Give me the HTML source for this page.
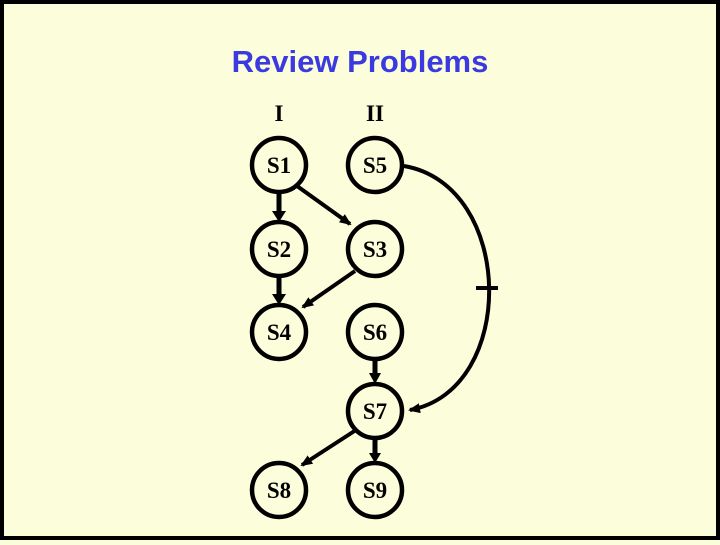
<!DOCTYPE html>
<html><head><meta charset="utf-8"><style>
html,body{margin:0;padding:0;}
body{width:720px;height:540px;overflow:hidden;background:#fcfdda;}
</style></head><body>
<svg width="720" height="540" xmlns="http://www.w3.org/2000/svg">
<defs>
<marker id="b" markerWidth="12" markerHeight="12" refX="10" refY="6" orient="auto" markerUnits="userSpaceOnUse"><path d="M0,1 L12,6 L0,11 z" fill="#000"/></marker></defs>
<rect x="2" y="2" width="716" height="536" fill="#fcfdda" stroke="#000" stroke-width="4"/>
<text x="360" y="72" text-anchor="middle" font-family="Liberation Sans, sans-serif" font-weight="bold" font-size="31" fill="#3a3ae0">Review Problems</text>
<g font-family="Liberation Serif, serif" font-weight="bold" font-size="23" text-anchor="middle" fill="#000">
<text x="279" y="121">I</text><text x="375" y="121">II</text>
</g>
<g fill="none" stroke="#000" stroke-width="4.5">
<circle cx="279" cy="165" r="27"/><circle cx="375" cy="165" r="27"/>
<circle cx="279" cy="249" r="27"/><circle cx="375" cy="249" r="27"/>
<circle cx="279" cy="332" r="27"/><circle cx="375" cy="332" r="27"/>
<circle cx="375" cy="411" r="27"/>
<circle cx="279" cy="490" r="27"/><circle cx="375" cy="490" r="27"/>
</g>
<g stroke="#000" stroke-width="5" fill="none">
<line x1="279" y1="193" x2="279" y2="214"/>
<line x1="279" y1="277" x2="279" y2="297"/>
<line x1="375" y1="360" x2="375" y2="376"/>
<line x1="375" y1="439" x2="375" y2="456"/>
</g>
<g fill="#000">
<path d="M272,211 L286,211 L279,222 z"/>
<path d="M272,294 L286,294 L279,305 z"/>
<path d="M369,373 L381,373 L375,384 z"/>
<path d="M369,453 L381,453 L375,463 z"/>
</g>
<g stroke="#000" stroke-width="4" fill="none">
<line x1="297" y1="186" x2="350" y2="224" marker-end="url(#b)"/>
<line x1="355" y1="271" x2="303" y2="307" marker-end="url(#b)"/>
<line x1="356" y1="430" x2="302" y2="465" marker-end="url(#b)"/>
<path d="M404,166 C515,185 518,390 410,410" marker-end="url(#b)"/>
<line x1="476" y1="288" x2="498" y2="288"/>
</g>
<g font-family="Liberation Serif, serif" font-weight="bold" font-size="23" text-anchor="middle" fill="#000">
<text x="279" y="173">S1</text><text x="375" y="173">S5</text>
<text x="279" y="257">S2</text><text x="375" y="257">S3</text>
<text x="279" y="340">S4</text><text x="375" y="340">S6</text>
<text x="375" y="419">S7</text>
<text x="279" y="498">S8</text><text x="375" y="498">S9</text>
</g>
</svg>
</body></html>
